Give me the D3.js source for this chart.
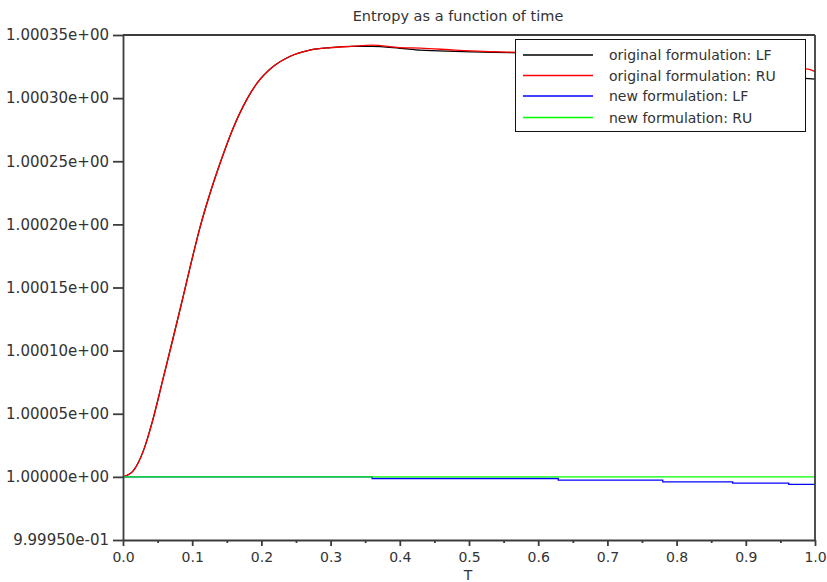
<!DOCTYPE html>
<html>
<head>
<meta charset="utf-8">
<script src="https://cdn.jsdelivr.net/npm/d3@7"></script>
<style>
  html, body { margin: 0; padding: 0; background: #fff; }
  svg { display: block; }
  text { font-family: "DejaVu Sans", sans-serif; fill: #333; }
</style>
</head>
<body>
<svg id="chart" width="827" height="582"></svg>
<script>
// ---- data ----
const titleText = "Entropy as a function of time";
const xLabel = "T";
const tOriginal = [0, 0.015, 0.029, 0.043, 0.058, 0.072, 0.087, 0.100, 0.111, 0.126, 0.140, 0.159, 0.179, 0.194, 0.217, 0.241, 0.270, 0.300, 0.330, 0.360, 0.400, 0.430, 0.480, 0.520, 0.560, 0.700, 0.800, 0.900, 0.990, 1.000];
const entropyOrigLF = [1.0, 1.000005, 1.000020, 1.000045, 1.000078, 1.000109, 1.000143, 1.000173, 1.000197, 1.000225, 1.000248, 1.000276, 1.000299, 1.000312, 1.000325, 1.000333, 1.000338, 1.000340, 1.000341, 1.000341, 1.0003395, 1.000338, 1.000337, 1.0003365, 1.000336, 1.000331, 1.000326, 1.000321, 1.0003155, 1.000315];
const entropyOrigRU = [1.0, 1.000005, 1.000020, 1.000045, 1.000078, 1.000109, 1.000143, 1.000173, 1.000197, 1.000225, 1.000248, 1.000276, 1.000299, 1.000312, 1.000325, 1.000333, 1.000338, 1.000340, 1.000341, 1.000342, 1.000340, 1.0003396, 1.000338, 1.000337, 1.0003365, 1.000333, 1.000330, 1.000326, 1.000323, 1.000321];
const tNewLF = [0, 0.360, 0.629, 0.780, 0.881, 0.962, 1.000];
const entropyNewLF = [1.0, 0.9999987, 0.9999974, 0.999996, 0.999995, 0.999994, 0.999994];
const tNewRU = [0, 1.0];
const entropyNewRU = [1.0, 1.0];
const xTicks = [0, 0.1, 0.2, 0.3, 0.4, 0.5, 0.6, 0.7, 0.8, 0.9, 1.0];
const xTickLabels = ["0.0", "0.1", "0.2", "0.3", "0.4", "0.5", "0.6", "0.7", "0.8", "0.9", "1.0"];
const xMinorTicks = [0.05, 0.15, 0.25, 0.35, 0.45, 0.55, 0.65, 0.75, 0.85, 0.95];
const yTicks = [0.99995, 1.0, 1.00005, 1.0001, 1.00015, 1.0002, 1.00025, 1.0003, 1.00035];
const yTickLabels = ["9.99950e-01", "1.00000e+00", "1.00005e+00", "1.00010e+00", "1.00015e+00", "1.00020e+00", "1.00025e+00", "1.00030e+00", "1.00035e+00"];
const seriesNames = ["original formulation: LF", "original formulation: RU", "new formulation: LF", "new formulation: RU"];
const seriesColors = ["#000000", "#ff0000", "#0000ff", "#00ff00"];

// ---- chart ----
const svg = d3.select("#chart");
const pL = 123, pR = 815, pT = 35, pB = 540;
const x = d3.scaleLinear().domain([0, 1]).range([pL, pR]);
const y = d3.scaleLinear().domain([0.99995, 1.00035]).range([pB, pT]);
const axisColor = "#3c3c3c";

// title
svg.append("text").attr("x", 458).attr("y", 21).attr("text-anchor", "middle")
  .style("font-size", "14.5px").text(titleText);

// series
const series = [
  {t: tOriginal, v: entropyOrigLF, curve: d3.curveMonotoneX},
  {t: tOriginal, v: entropyOrigRU, curve: d3.curveMonotoneX},
  {t: tNewLF, v: entropyNewLF, curve: d3.curveStepAfter},
  {t: tNewRU, v: entropyNewRU, curve: d3.curveLinear}
];
const plotG = svg.append("g");
series.forEach((s, i) => {
  const line = d3.line().x(d => x(d[0])).y(d => y(d[1])).curve(s.curve);
  plotG.append("path").datum(s.t.map((t, k) => [t, s.v[k]]))
    .attr("fill", "none").attr("stroke", seriesColors[i]).attr("stroke-width", 1.3)
    .attr("d", line);
});

// frame top/right
svg.append("line").attr("x1", pL).attr("x2", pR).attr("y1", pT).attr("y2", pT)
  .attr("stroke", axisColor).attr("stroke-width", 1.8);
svg.append("line").attr("x1", pR).attr("x2", pR).attr("y1", pT).attr("y2", pB)
  .attr("stroke", axisColor).attr("stroke-width", 1.8);

// axes
const xAxis = d3.axisBottom(x).tickValues(xTicks).tickFormat((d, i) => xTickLabels[i])
  .tickSizeInner(6).tickSizeOuter(0).tickPadding(6);
const gx = svg.append("g").attr("transform", `translate(0,${pB})`).call(xAxis);
const gxm = svg.append("g").attr("transform", `translate(0,${pB})`)
  .call(d3.axisBottom(x).tickValues(xMinorTicks).tickFormat("").tickSizeInner(3).tickSizeOuter(0));
gxm.select(".domain").remove();

const yAxis = d3.axisLeft(y).tickValues(yTicks).tickFormat((d, i) => yTickLabels[i])
  .tickSizeInner(10).tickSizeOuter(0).tickPadding(4);
const gy = svg.append("g").attr("transform", `translate(${pL},0)`).call(yAxis);

[gx, gxm, gy].forEach(g => {
  g.selectAll("path.domain").attr("stroke", axisColor).attr("stroke-width", 1.8);
  g.selectAll(".tick line").attr("stroke", axisColor).attr("stroke-width", 1.8);
  g.selectAll(".tick text").style("font-family", "DejaVu Sans, sans-serif")
    .style("font-size", "14px").attr("fill", "#333");
});
gy.selectAll(".tick text").style("font-size", "15px");

// x label
svg.append("text").attr("x", 468).attr("y", 580).attr("text-anchor", "middle")
  .style("font-size", "14px").text(xLabel);

// legend
const lg = svg.append("g");
lg.append("rect").attr("x", 515.5).attr("y", 39.5).attr("width", 290).attr("height", 92)
  .attr("fill", "#fff").attr("stroke", "#111").attr("stroke-width", 1);
const rowY = [55, 75.5, 96, 117.5];
seriesNames.forEach((name, i) => {
  lg.append("line").attr("x1", 523).attr("x2", 593).attr("y1", rowY[i]).attr("y2", rowY[i])
    .attr("stroke", seriesColors[i]).attr("stroke-width", 1.3);
  lg.append("text").attr("x", 609).attr("y", rowY[i] + 5).style("font-size", "14px").text(name);
});
</script>
</body>
</html>
